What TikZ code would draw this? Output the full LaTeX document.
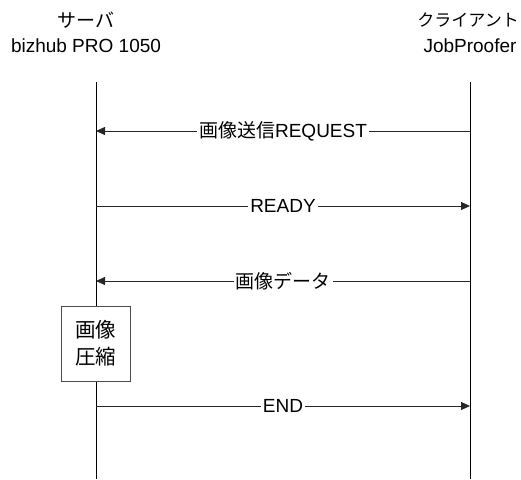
\documentclass[tikz,border=0pt]{standalone}
\usepackage{fontspec}
\setmainfont{Liberation Sans}
\newfontfamily\jp{Noto Sans CJK JP}
\usetikzlibrary{arrows.meta}
\begin{document}
\begin{tikzpicture}[x=1pt,y=-1pt,
  lifeline/.style={draw=black, line width=0.9pt},
  msg/.style={draw=black!85, line width=0.8pt, -{Triangle[length=9pt,width=8pt]}},
  lbl/.style={fill=white, inner xsep=2pt, inner ysep=1pt, font=\fontsize{19}{22}\selectfont},
  hdr/.style={inner sep=0pt, font=\fontsize{19}{22}\selectfont},
  procbox/.style={draw=black!70, fill=white, line width=0.8pt, minimum width=69pt,
    minimum height=75pt, align=center, font=\jp\fontsize{20.5}{27}\selectfont}]
\useasboundingbox (0,0) rectangle (521,479);
% headers
\node[hdr] (s1) at (86,20) {\jp\fontsize{19}{22}\selectfont サーバ};
\node[hdr] (s2) at (86,46) {bizhub PRO 1050};
\node[hdr, anchor=east] (c1) at (519,20) {\jp\fontsize{17}{22}\selectfont クライアント};
\node[hdr] (c2) at (470,46) {JobProofer};
% lifelines
\coordinate (Ltop) at (96,82);
\coordinate (Lbot) at (96,479);
\coordinate (Rtop) at (470,82);
\coordinate (Rbot) at (470,479);
\draw[lifeline] (Ltop) -- (Lbot);
\draw[lifeline] (Rtop) -- (Rbot);
% message anchors
\coordinate (L1) at (96,131);  \coordinate (R1) at (470,131);
\coordinate (L2) at (96,206);  \coordinate (R2) at (470,206);
\coordinate (L3) at (96,281);  \coordinate (R3) at (470,281);
\coordinate (L4) at (96,406);  \coordinate (R4) at (470,406);
\draw[msg] (R1) -- node[lbl] (m1) {{\jp 画像送信}REQUEST} (L1);
\draw[msg] (L2) -- node[lbl] (m2) {READY} (R2);
\draw[msg] (R3) -- node[lbl] (m3) {\jp 画像データ} (L3);
\draw[msg] (L4) -- node[lbl] (m4) {END} (R4);
% process box
\node[procbox] (proc) at (95.5,343.5) {画像\\圧縮};
\end{tikzpicture}
\end{document}
